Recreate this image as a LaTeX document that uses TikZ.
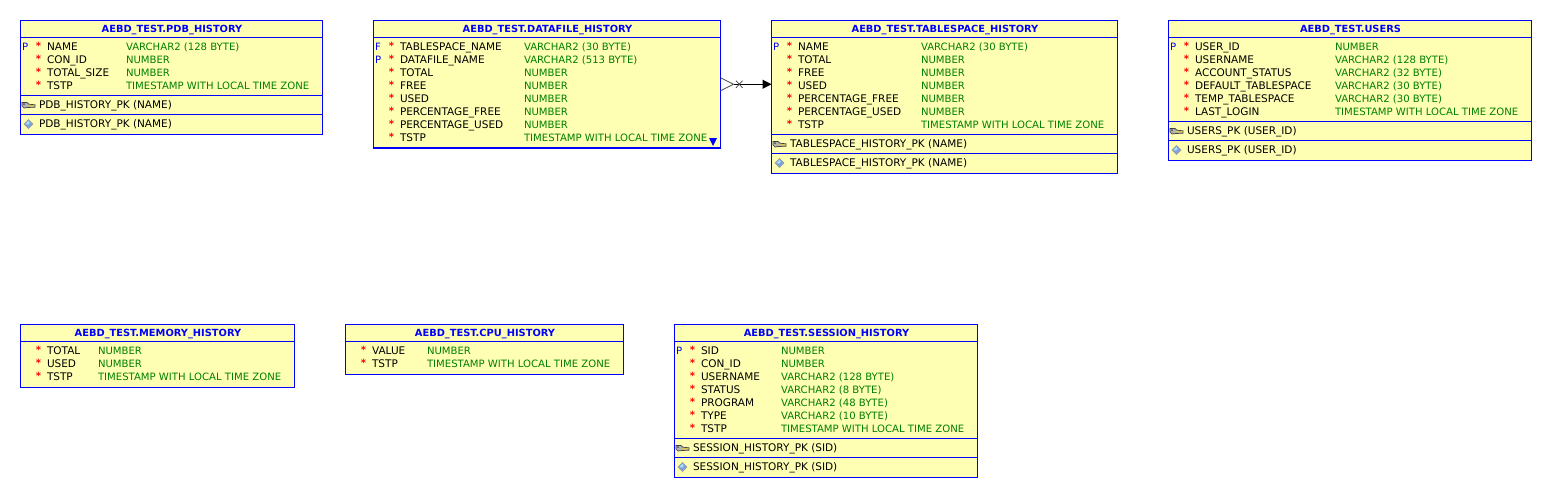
\documentclass[tikz,border=0pt]{standalone}
\usepackage{fontspec}
\setmainfont{DejaVu Sans}
\usetikzlibrary{arrows.meta}
\definecolor{tblfill}{HTML}{FFFFB4}
\definecolor{tblblue}{HTML}{0000FF}
\definecolor{typegreen}{HTML}{008000}
\tikzset{
  tbl/.style={draw=tblblue,fill=tblfill,line width=1pt,inner sep=0pt,outer sep=0pt,rectangle},
  txt/.style={inner sep=0pt,outer sep=0pt,anchor=base west,font=\fontsize{10.5}{11}\selectfont},
  ttl/.style={inner sep=0pt,outer sep=0pt,anchor=center,text=tblblue,font=\fontsize{9.85}{11}\selectfont\bfseries},
  flagtxt/.style={txt,text=tblblue,font=\fontsize{10.1}{11}\selectfont},
  startxt/.style={inner sep=0pt,outer sep=0pt,anchor=center,text=red,font=\fontsize{10}{11}\selectfont\bfseries},
  typetxt/.style={txt,text=typegreen,font=\fontsize{10.1}{11}\selectfont},
  sepline/.style={draw=tblblue,line width=1pt},
  conn/.style={draw=black,line width=1pt},
  footline/.style={draw=black!70,line width=.8pt},
}
% name, x1, y1, x2, y2, title
\newcommand{\tblbox}[6]{%
  \pgfmathsetmacro{\cxx}{(#2+#4)/2}\pgfmathsetmacro{\cyy}{(#3+#5)/2}%
  \pgfmathsetmacro{\wdd}{#4-#2}\pgfmathsetmacro{\htt}{#5-#3}%
  \node[tbl,minimum width=\wdd pt,minimum height=\htt pt] (#1) at (\cxx,\cyy) {};
  \node[ttl] (#1-title) at (\cxx+0.5,#3+9.5) {#6};
  \draw[sepline] (#1.west |- 0,#3+16.5) -- (#1.east |- 0,#3+16.5);
}
% table, row id, y centre, flag, x of star, x of name, x of type, name, type
\newcommand{\drow}[9]{%
  \node[flagtxt] (#1-f#2) at (#1.west |- 0,#3+4) [xshift=1.5pt] {#4};
  \node[startxt] (#1-s#2) at (#5,#3) {*};
  \node[txt] (#1-n#2) at (#6,#3+4) {#8};
  \node[typetxt] (#1-t#2) at (#7,#3+4) {#9};
}
\newcommand{\keyicon}[2]{%
  \begin{scope}[shift={(#1,#2)}]
    \fill[fill=black!30,draw=black!75,line width=.7pt] (0,-2.5) -- (5,-2.5) -- (7,-0.8) -- (13,-0.2) -- (13,2.2) -- (6,2.5) -- (2,3) -- (0,1) -- cycle;
    \fill[black!70] (2,-0.8) circle (1);
    \draw[yellow!60!brown,line width=1pt] (5.5,0.7) -- (12.5,0.9);
  \end{scope}}
\newcommand{\diamicon}[2]{%
  \begin{scope}[shift={(#1,#2)}]
    \fill[fill=cyan!45!blue!50!white,draw=black!40,line width=.4pt] (-4.5,0) -- (0,-4.5) -- (4.5,0) -- (0,4.5) -- cycle;
    \fill[white!65!cyan] (-3.2,0) -- (0,-3.2) -- (1.2,-1) -- (-0.5,0.5) -- cycle;
  \end{scope}}
\begin{document}
\begin{tikzpicture}[x=1pt,y=-1pt]
\useasboundingbox[fill=white] (0,0) rectangle (1542,488);

% PDB_HISTORY
\tblbox{pdb}{20.5}{20.5}{322.5}{134.5}{AEBD\_TEST.PDB\_HISTORY}
\drow{pdb}{1}{46}{P}{38.5}{47}{126}{NAME}{VARCHAR2 (128 BYTE)}
\drow{pdb}{2}{59}{}{38.5}{47}{126}{CON\_ID}{NUMBER}
\drow{pdb}{3}{72}{}{38.5}{47}{126}{TOTAL\_SIZE}{NUMBER}
\drow{pdb}{4}{85}{}{38.5}{47}{126}{TSTP}{TIMESTAMP WITH LOCAL TIME ZONE}
\draw[sepline] (pdb.west |- 0,95.5) -- (pdb.east |- 0,95.5);
\draw[sepline] (pdb.west |- 0,114.5) -- (pdb.east |- 0,114.5);
\keyicon{22}{105}
\node[txt] (pdb-k) at (39,108) {PDB\_HISTORY\_PK (NAME)};
\diamicon{28.5}{124}
\node[txt] (pdb-i) at (39,127) {PDB\_HISTORY\_PK (NAME)};

% DATAFILE_HISTORY
\tblbox{data}{373.5}{20.5}{720.5}{148}{AEBD\_TEST.DATAFILE\_HISTORY}
\drow{data}{1}{46}{F}{391.5}{400}{524}{TABLESPACE\_NAME}{VARCHAR2 (30 BYTE)}
\drow{data}{2}{59}{P}{391.5}{400}{524}{DATAFILE\_NAME}{VARCHAR2 (513 BYTE)}
\drow{data}{3}{72}{}{391.5}{400}{524}{TOTAL}{NUMBER}
\drow{data}{4}{85}{}{391.5}{400}{524}{FREE}{NUMBER}
\drow{data}{5}{98}{}{391.5}{400}{524}{USED}{NUMBER}
\drow{data}{6}{111}{}{391.5}{400}{524}{PERCENTAGE\_FREE}{NUMBER}
\drow{data}{7}{124}{}{391.5}{400}{524}{PERCENTAGE\_USED}{NUMBER}
\drow{data}{8}{137}{}{391.5}{400}{524}{TSTP}{TIMESTAMP WITH LOCAL TIME ZONE}
\draw[sepline,line width=1.8pt] (data.west |- 0,148) -- (data.east |- 0,148);
\fill[tblblue] (709,138) -- (717,138) -- (713,146) -- cycle;

% TABLESPACE_HISTORY
\tblbox{ts}{771.5}{20.5}{1117.5}{173.5}{AEBD\_TEST.TABLESPACE\_HISTORY}
\drow{ts}{1}{46}{P}{789.5}{798}{921}{NAME}{VARCHAR2 (30 BYTE)}
\drow{ts}{2}{59}{}{789.5}{798}{921}{TOTAL}{NUMBER}
\drow{ts}{3}{72}{}{789.5}{798}{921}{FREE}{NUMBER}
\drow{ts}{4}{85}{}{789.5}{798}{921}{USED}{NUMBER}
\drow{ts}{5}{98}{}{789.5}{798}{921}{PERCENTAGE\_FREE}{NUMBER}
\drow{ts}{6}{111}{}{789.5}{798}{921}{PERCENTAGE\_USED}{NUMBER}
\drow{ts}{7}{124}{}{789.5}{798}{921}{TSTP}{TIMESTAMP WITH LOCAL TIME ZONE}
\draw[sepline] (ts.west |- 0,134.5) -- (ts.east |- 0,134.5);
\draw[sepline] (ts.west |- 0,153.5) -- (ts.east |- 0,153.5);
\keyicon{773}{144}
\node[txt] (ts-k) at (790,147) {TABLESPACE\_HISTORY\_PK (NAME)};
\diamicon{779.5}{163}
\node[txt] (ts-i) at (790,166) {TABLESPACE\_HISTORY\_PK (NAME)};

% USERS
\tblbox{users}{1168.5}{20.5}{1531.5}{160.5}{AEBD\_TEST.USERS}
\drow{users}{1}{46}{P}{1186.5}{1195}{1335}{USER\_ID}{NUMBER}
\drow{users}{2}{59}{}{1186.5}{1195}{1335}{USERNAME}{VARCHAR2 (128 BYTE)}
\drow{users}{3}{72}{}{1186.5}{1195}{1335}{ACCOUNT\_STATUS}{VARCHAR2 (32 BYTE)}
\drow{users}{4}{85}{}{1186.5}{1195}{1335}{DEFAULT\_TABLESPACE}{VARCHAR2 (30 BYTE)}
\drow{users}{5}{98}{}{1186.5}{1195}{1335}{TEMP\_TABLESPACE}{VARCHAR2 (30 BYTE)}
\drow{users}{6}{111}{}{1186.5}{1195}{1335}{LAST\_LOGIN}{TIMESTAMP WITH LOCAL TIME ZONE}
\draw[sepline] (users.west |- 0,121.5) -- (users.east |- 0,121.5);
\draw[sepline] (users.west |- 0,140.5) -- (users.east |- 0,140.5);
\keyicon{1170}{131}
\node[txt] (users-k) at (1187,134) {USERS\_PK (USER\_ID)};
\diamicon{1176.5}{150}
\node[txt] (users-i) at (1187,153) {USERS\_PK (USER\_ID)};

% MEMORY_HISTORY
\tblbox{mem}{20.5}{324.5}{294.5}{387.5}{AEBD\_TEST.MEMORY\_HISTORY}
\drow{mem}{1}{350}{}{38.5}{47}{98}{TOTAL}{NUMBER}
\drow{mem}{2}{363}{}{38.5}{47}{98}{USED}{NUMBER}
\drow{mem}{3}{376}{}{38.5}{47}{98}{TSTP}{TIMESTAMP WITH LOCAL TIME ZONE}

% CPU_HISTORY
\tblbox{cpu}{345.5}{324.5}{623.5}{374.5}{AEBD\_TEST.CPU\_HISTORY}
\drow{cpu}{1}{350}{}{363.5}{372}{427}{VALUE}{NUMBER}
\drow{cpu}{2}{363}{}{363.5}{372}{427}{TSTP}{TIMESTAMP WITH LOCAL TIME ZONE}

% SESSION_HISTORY
\tblbox{sess}{674.5}{324.5}{977.5}{477.5}{AEBD\_TEST.SESSION\_HISTORY}
\drow{sess}{1}{350}{P}{692.5}{701}{781}{SID}{NUMBER}
\drow{sess}{2}{363}{}{692.5}{701}{781}{CON\_ID}{NUMBER}
\drow{sess}{3}{376}{}{692.5}{701}{781}{USERNAME}{VARCHAR2 (128 BYTE)}
\drow{sess}{4}{389}{}{692.5}{701}{781}{STATUS}{VARCHAR2 (8 BYTE)}
\drow{sess}{5}{402}{}{692.5}{701}{781}{PROGRAM}{VARCHAR2 (48 BYTE)}
\drow{sess}{6}{415}{}{692.5}{701}{781}{TYPE}{VARCHAR2 (10 BYTE)}
\drow{sess}{7}{428}{}{692.5}{701}{781}{TSTP}{TIMESTAMP WITH LOCAL TIME ZONE}
\draw[sepline] (sess.west |- 0,438.5) -- (sess.east |- 0,438.5);
\draw[sepline] (sess.west |- 0,457.5) -- (sess.east |- 0,457.5);
\keyicon{676}{448}
\node[txt] (sess-k) at (693,451) {SESSION\_HISTORY\_PK (SID)};
\diamicon{682.5}{467}
\node[txt] (sess-i) at (693,470) {SESSION\_HISTORY\_PK (SID)};

% Foreign key connector
\coordinate (apex) at ([xshift=13pt]data.east);
\draw[conn,-{Triangle[length=9pt,width=9pt]}] (apex) -- (data.east -| ts.west);
\draw[footline] ([yshift=-6.5pt]data.east) -- (apex) -- ([yshift=6.5pt]data.east);
\draw[footline] ([xshift=15.5pt,yshift=-3.5pt]data.east) -- ([xshift=22pt,yshift=3.5pt]data.east)
  ([xshift=15.5pt,yshift=3.5pt]data.east) -- ([xshift=22pt,yshift=-3.5pt]data.east);
\end{tikzpicture}
\end{document}
